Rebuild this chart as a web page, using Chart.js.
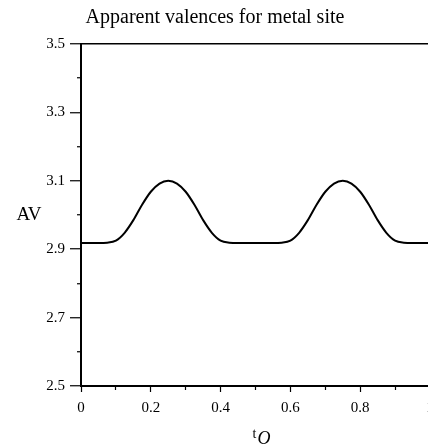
<!DOCTYPE html>
<html>
<head>
<meta charset="utf-8">
<script src="https://cdn.jsdelivr.net/npm/chart.js@4"></script>
<style>
  html, body { margin: 0; padding: 0; background: #fff; overflow: hidden; }
  #wrap { width: 440px; height: 445px; }
</style>
</head>
<body>
<div id="wrap"><canvas id="avChart" width="440" height="445"></canvas></div>
<script>
// ===== data =====
const tValues = [0, 0.025, 0.05, 0.075, 0.1, 0.125, 0.15, 0.175, 0.2, 0.225,
                 0.25, 0.275, 0.3, 0.325, 0.35, 0.375, 0.4, 0.425, 0.45, 0.475,
                 0.5, 0.525, 0.55, 0.575, 0.6, 0.625, 0.65, 0.675, 0.7, 0.725,
                 0.75, 0.775, 0.8, 0.825, 0.85, 0.875, 0.9, 0.925, 0.95, 0.975, 1.0];
const avValues = [2.918, 2.918, 2.918, 2.919, 2.925, 2.948, 2.985, 3.030, 3.068, 3.092,
                  3.100, 3.092, 3.068, 3.030, 2.985, 2.948, 2.925, 2.919, 2.918, 2.918,
                  2.918, 2.918, 2.918, 2.919, 2.925, 2.948, 2.985, 3.030, 3.068, 3.092,
                  3.100, 3.092, 3.068, 3.030, 2.985, 2.948, 2.925, 2.919, 2.918, 2.918, 2.918];
const xTickLabels = ['0', '0.2', '0.4', '0.6', '0.8', '1'];
const yTickLabels = ['2.5', '2.7', '2.9', '3.1', '3.3', '3.5'];

const SERIF = '"Liberation Serif", "DejaVu Serif", serif';
const tenths = v => Math.round(v * 10);
const isMinorX = c => c.tick && tenths(c.tick.value) % 2 !== 0;
const isMinorY = c => c.tick && tenths(c.tick.value) % 2 === 0;

// axis titles: "AV" on the left, t_O below
const axisTitles = {
    id: 'axisTitles',
    afterDraw(chart) {
        const ctx = chart.ctx;
        const area = chart.chartArea;
        ctx.save();
        ctx.fillStyle = '#000';
        ctx.font = '19px ' + SERIF;
        ctx.textAlign = 'center';
        ctx.textBaseline = 'middle';
        ctx.fillText('AV', 29, (area.top + area.bottom) / 2);
        ctx.textAlign = 'left';
        ctx.textBaseline = 'alphabetic';
        const cx = (area.left + area.right) / 2;
        ctx.font = '14px ' + SERIF;
        ctx.fillText('t', cx - 3, 438);
        ctx.font = 'italic 18px ' + SERIF;
        ctx.fillText('O', cx + 2, 444);
        ctx.restore();
    }
};

new Chart(document.getElementById('avChart'), {
    type: 'line',
    data: {
        datasets: [{
            data: tValues.map((t, i) => ({ x: t, y: avValues[i] })),
            borderColor: '#000',
            borderWidth: 2,
            pointRadius: 0,
            cubicInterpolationMode: 'monotone',
            fill: false
        }]
    },
    options: {
        responsive: false,
        animation: false,
        layout: { padding: { left: 0, right: 10, top: 0, bottom: 0 } },
        plugins: {
            legend: { display: false },
            tooltip: { enabled: false },
            title: {
                display: true,
                text: 'Apparent valences for metal site',
                color: '#000',
                font: { family: SERIF, size: 20, weight: 'normal' },
                padding: { top: 6, bottom: 14 }
            }
        },
        scales: {
            x: {
                type: 'linear',
                position: 'bottom',
                min: 0,
                max: 1,
                afterFit: s => { s.height = 59; s.paddingLeft = 0; s.paddingRight = 0; },
                border: { display: true, color: '#000', width: 2 },
                grid: {
                    drawOnChartArea: false,
                    tickLength: 6,
                    tickColor: '#000',
                    tickWidth: 1.2,
                    tickBorderDash: c => isMinorX(c) ? [3, 10] : []
                },
                ticks: {
                    stepSize: 0.1,
                    autoSkip: false,
                    maxRotation: 0,
                    padding: 7,
                    color: '#000',
                    font: { family: SERIF, size: 15 },
                    callback: v => tenths(v) % 2 === 0 ? xTickLabels[tenths(v) / 2] : ''
                }
            },
            y: {
                type: 'linear',
                position: 'left',
                min: 2.5,
                max: 3.5,
                afterFit: s => { s.width = 81; s.paddingTop = 0; s.paddingBottom = 0; },
                border: { display: true, color: '#000', width: 2 },
                grid: {
                    // only the 3.5 line is drawn across: it closes the frame at the top
                    drawOnChartArea: true,
                    color: c => (c.tick && tenths(c.tick.value) === 35) ? '#000' : 'rgba(0,0,0,0)',
                    lineWidth: 1.5,
                    tickLength: 11,
                    tickColor: '#000',
                    tickWidth: 1.2,
                    tickBorderDash: c => isMinorY(c) ? [4, 7] : [],
                    tickBorderDashOffset: 4
                },
                ticks: {
                    stepSize: 0.1,
                    autoSkip: false,
                    padding: 5,
                    color: '#000',
                    font: { family: SERIF, size: 15 },
                    callback: v => tenths(v) % 2 !== 0 ? yTickLabels[(tenths(v) - 25) / 2] : ''
                }
            }
        }
    },
    plugins: [axisTitles]
});
</script>
</body>
</html>
